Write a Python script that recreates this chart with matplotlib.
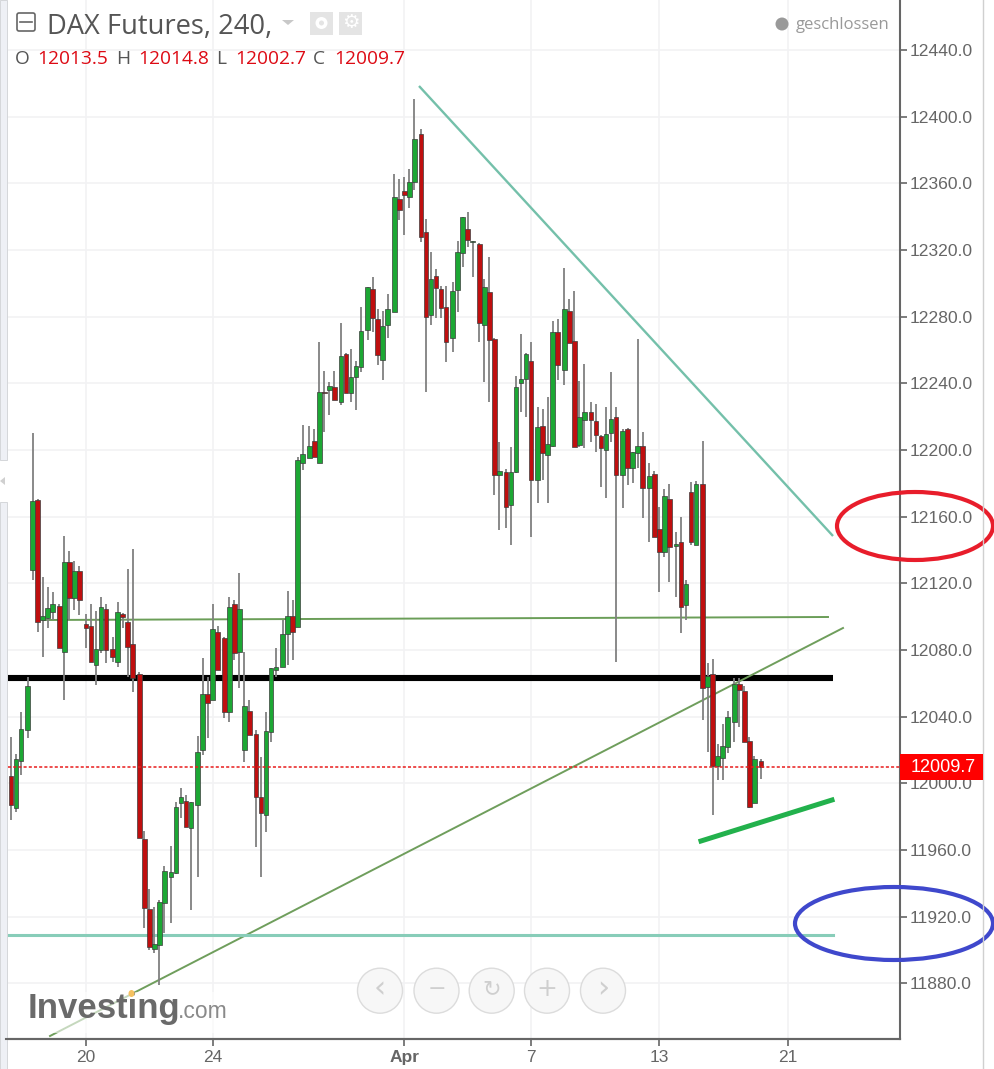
import matplotlib
matplotlib.use("Agg")
import matplotlib.pyplot as plt
from matplotlib.patches import Ellipse, Circle, Rectangle, FancyBboxPatch, Polygon

# candles per trading session, a small gap is left between sessions
session_sizes = [3, 6, 5, 5, 5, 6, 5, 5, 6, 5, 5, 6, 5, 5, 5, 6, 5, 5, 6, 5, 5, 6, 5, 5, 5, 6, 5, 1]

opens = [12004.6, 11985, 12013.4,
         12032, 12128, 12170, 12098, 12099, 12103,
         12106.6, 12079, 12132.6, 12111, 12127.6,
         12095.6, 12094.6, 12071, 12080, 12104.6,
         12080.6, 12073, 12101.6, 12096.6, 12083.6,
         12065.6, 11966.6, 11924.6, 11900.4, 11903, 11928.4,
         11944, 11946, 11988, 11989.6, 11973,
         11987, 12020, 12053.6, 12050, 12090.6,
         12087, 12043, 12107.6, 12079, 12020, 12043.6,
         12029.6, 11991.6, 11981, 12031, 12068,
         12070, 12089.4, 12100.6, 12094, 12192.4,
         12195.4, 12205.6, 12192.4, 12234.6, 12236, 12237.6,
         12229, 12257.6, 12234.4, 12243.6, 12250,
         12272, 12296.6, 12278.6, 12254, 12275,
         12283, 12350.6, 12355.6, 12352, 12361,
         12389.6, 12330.6, 12281, 12304.6, 12296.6, 12285.6,
         12267, 12296, 12318, 12332.6, 12324.8,
         12323.6, 12275, 12294.6, 12266.6, 12185,
         12186.6, 12167, 12187, 12240, 12242.4, 12253.6,
         12182, 12214.6, 12197, 12202.4, 12270.6,
         12248, 12283.6, 12265.6, 12203, 12218,
         12222.6, 12217.6, 12208.6, 12200, 12210, 12219.6,
         12185, 12212.6, 12189, 12198.4, 12202.6,
         12177, 12185.6, 12152.6, 12139, 12170.6,
         12142.4, 12144.6, 12107, 12174.6, 12143,
         12179.6, 12058, 12065.6, 12010.4, 12015, 12022,
         12037, 12059.6, 12055.6, 12025.6, 11988.4,
         12013.5]

closes = [11987, 12014.6, 12032.6,
          12058.6, 12169.6, 12097, 12100.4, 12105.4, 12107.6,
          12081, 12132.6, 12111, 12127.6, 12110,
          12093, 12073, 12080.4, 12105.6, 12080,
          12076, 12102.6, 12100, 12082, 12063,
          11967.4, 11925, 11902, 11903.4, 11928.6, 11947.4,
          11946.6, 11985.6, 11991.6, 11974, 11988.6,
          12018.6, 12053.6, 12048, 12092.6, 12068,
          12043, 12105.6, 12078, 12104.6, 12046.4, 12029,
          11992, 11982, 12031.6, 12069, 12069.6,
          12089.6, 12100.6, 12091, 12194, 12197.4,
          12202.6, 12196, 12234.6, 12234, 12238.6, 12230,
          12256.6, 12234.4, 12243.6, 12250.4, 12271.6,
          12297.6, 12279, 12257, 12274.6, 12284.6,
          12351.6, 12344, 12353, 12360.6, 12386.6,
          12328, 12280, 12302.6, 12297, 12285, 12265,
          12295.6, 12318.6, 12339.6, 12326, 12325.4,
          12276, 12297.6, 12266, 12185, 12187.6,
          12166, 12186.6, 12237.6, 12242.6, 12257.6, 12182,
          12213.6, 12198, 12203.6, 12270.6, 12251,
          12284.6, 12264, 12202, 12219.6, 12222.6,
          12218, 12209, 12201, 12209.6, 12218.6, 12185,
          12211.6, 12189, 12198.6, 12202.6, 12177,
          12184.6, 12148, 12139, 12172.6, 12142,
          12143.4, 12106, 12119.6, 12145, 12179.6,
          12057, 12064.4, 12010.4, 12016.6, 12022.6, 12039.6,
          12059.6, 12056, 12025, 11986, 12014.6,
          12009.7]

highs = [12027.6, 12017.6, 12042.6,
         12064, 12210, 12170.6, 12123.6, 12118, 12114.6,
         12107.6, 12148.6, 12139.6, 12133.6, 12130.6,
         12101.6, 12107.6, 12103.6, 12111.6, 12107.6,
         12087.6, 12108.6, 12102, 12128.6, 12140.6,
         12067, 11971.6, 11936.6, 11925.6, 11930, 11950.4,
         11962.6, 11988.6, 11997, 11993, 11989,
         12028.6, 12075, 12064, 12107.6, 12094.6,
         12088, 12112, 12110, 12126, 12079, 12050,
         12032, 12015.6, 12042.6, 12069.5, 12081,
         12098, 12115.6, 12110, 12196, 12215,
         12214.6, 12212.6, 12264.6, 12247.6, 12241, 12247.6,
         12276, 12258, 12260.6, 12253.6, 12285.6,
         12298, 12303.6, 12284.6, 12283.6, 12293.6,
         12365.6, 12362.6, 12363.6, 12368.6, 12410.6,
         12392.6, 12338.6, 12318.6, 12308.6, 12298.6, 12298.6,
         12300.6, 12325.6, 12340, 12342.6, 12325.6,
         12324, 12302.6, 12315.6, 12267, 12204.6,
         12188.6, 12201.6, 12244.6, 12269.6, 12258, 12264.6,
         12225.6, 12224.6, 12231.6, 12277.6, 12278.6,
         12309, 12290.6, 12295.6, 12241.6, 12251.6,
         12228.6, 12227.6, 12209, 12225.6, 12246.6, 12225.6,
         12212.6, 12213, 12199, 12266.6, 12210.6,
         12192, 12187.6, 12165.6, 12176.6, 12179.6,
         12150.6, 12159.6, 12122, 12180.6, 12181.6,
         12205.6, 12072, 12074.6, 12023.6, 12035.6, 12043.6,
         12063, 12063, 12058.4, 12027.6, 12016.6,
         12014.8]

lows = [11978, 11983, 12005,
        12027, 12122, 12091, 12076, 12093, 12098,
        12081, 12050, 12098, 12104, 12101,
        12081, 12073, 12059, 12078, 12072,
        12073, 12070, 12093, 12064, 12055,
        11967, 11913, 11900, 11898, 11879, 11910,
        11916, 11945.6, 11979, 11974, 11924,
        11944, 12017, 12027, 12050, 12068,
        12039, 12037, 12074, 12057, 12013, 12029,
        11962, 11944, 11971, 12025, 12064,
        12070, 12071, 12074, 12094, 12188,
        12195, 12196, 12192, 12211, 12221, 12230,
        12227, 12234, 12229, 12224, 12247,
        12266, 12271, 12251, 12242, 12267,
        12283, 12338, 12329, 12345, 12356,
        12325, 12235, 12275, 12279, 12279, 12253,
        12259, 12283, 12310, 12322, 12304,
        12265, 12241, 12229, 12173, 12152,
        12153, 12143, 12186, 12223, 12220, 12148,
        12168, 12182, 12168, 12202, 12242,
        12239, 12264, 12202, 12202, 12201,
        12205, 12199, 12178, 12171, 12205, 12072.8,
        12165, 12179, 12180, 12189, 12159,
        12145, 12148, 12115, 12136, 12121,
        12112, 12090, 12098, 12143, 12143,
        12038, 12019, 11981, 12002, 12002, 12018,
        12025, 12034, 12025, 11985, 11988,
        12002.7]

y_ticks = list(range(11880, 12441, 40))
x_tick_pos = [15, 40.34, 78.66, 104, 129.66, 155.3]
x_tick_labels = ["20", "24", "Apr", "7", "13", "21"]

last_price = 12009.7
legend_labels = ["O", "H", "L", "C"]
legend_values = ["12013.5", "12014.8", "12002.7", "12009.7"]

# x position of each candle: 1 unit per candle, sessions slightly apart
xs = []
pos = 0
for size in session_sizes:
    for k in range(size):
        xs.append(pos)
        pos += 1
    pos += 0.333

fig = plt.figure(figsize=(9.94, 10.69), dpi=100, facecolor="white")
ax = fig.add_axes([8 / 994, 30 / 1069, 892 / 994, 1039 / 1069])
ax.set_xlim(-0.6, 177.8)
ax.set_ylim(11846.6, 12470)

# grid
ax.set_yticks(y_ticks)
ax.set_yticklabels([f"{v:.1f}" for v in y_ticks], fontsize=12.6, color="#666666", family="Liberation Sans")
ax.set_xticks(x_tick_pos)
ax.set_xticklabels(x_tick_labels, fontsize=12.5, color="#666666", family="Liberation Sans")
ax.get_xticklabels()[2].set_fontweight("bold")
ax.yaxis.tick_right()
ax.tick_params(axis="y", length=5, width=1.2, color="#666666", pad=2)
ax.tick_params(axis="x", length=5, width=1.2, color="#666666", pad=3)
ax.grid(True, color="#f2f2f4", linewidth=1.2)
ax.set_axisbelow(True)
for side in ["top", "left"]:
    ax.spines[side].set_visible(False)
for side in ["right", "bottom"]:
    ax.spines[side].set_color("#666666")
    ax.spines[side].set_linewidth(1.5)

# hand drawn trend lines
ax.plot([81.6, 164.4], [12418.4, 12148.4], color="#74c0aa", lw=1.7, zorder=2, solid_capstyle="butt")
ax.plot([6.4, 163.4], [12098, 12099.8], color="#6b9e58", lw=1.4, zorder=2)
ax.plot([-0.6, 164.4], [12063.2, 12063.2], color="black", lw=4.4, zorder=2, solid_capstyle="butt")
ax.plot([7.8, 166.4], [11848.4, 12093.2], color="#6f9e5c", lw=1.4, zorder=2)
ax.plot([-0.6, 164.4], [11909, 11909], color="#88cdb9", lw=2.2, zorder=2)
ax.plot([138, 164.2], [11965.4, 11990], color="#22b14c", lw=3.6, zorder=2)

# candles
ax.vlines(xs, lows, highs, color="#808080", lw=1.3, zorder=3)
for x, o, c in zip(xs, opens, closes):
    col = "#1ca734" if c >= o else "#bf0f0f"
    ax.bar(x, abs(c - o), bottom=min(o, c), width=0.9, color=col, edgecolor="#3c3c3c", lw=0.5, zorder=4)

# last price line
ax.axhline(last_price, color="#e81c1c", lw=1.1, ls=(0, (2, 1.4)), zorder=5)

# circled levels
ax.add_patch(Ellipse((180.8, 12154.4), 31.2, 40.8, fill=False, ec="#e81d2b", lw=3, clip_on=False, zorder=6))
ax.add_patch(Ellipse((176.6, 11915.9), 39.6, 43.8, fill=False, ec="#3f48cc", lw=3, clip_on=False, zorder=6))

# overlay in pixel coordinates for the chart's toolbars and labels
ov = fig.add_axes([0, 0, 1, 1], facecolor="none")
ov.set_xlim(0, 994)
ov.set_ylim(1069, 0)
ov.axis("off")

# price tag
ov.add_patch(Rectangle((900, 754), 83, 26, fc="#ff0000", ec="none", zorder=7))
ov.text(943, 767.5, f"{last_price:.1f}", color="white", fontsize=13, family="Liberation Sans", ha="center", va="center", zorder=8)

# left strip and right border
ov.add_patch(Rectangle((0, 0), 6.5, 460, fc="#eef0f5", ec="#d4d6da", lw=0.7))
ov.add_patch(Rectangle((0, 502), 6.5, 567, fc="#eef0f5", ec="#d4d6da", lw=0.7))
ov.add_patch(Polygon([[0, 481], [5, 477], [5, 485]], fc="#d0d0d0", ec="none"))
ov.plot([983, 983], [0, 1069], color="#d0d0d0", lw=1)
ov.plot([6, 900], [1039, 1039], color="#666666", lw=1.5)

# header
ov.add_patch(FancyBboxPatch((17, 13), 18, 18, boxstyle="round,pad=0,rounding_size=2", fc="white", ec="#666666", lw=1.2))
ov.plot([20, 32], [22, 22], color="#666666", lw=1.2)
ov.text(47, 27, "DAX Futures, 240,", fontsize=19.7, color="#555555", family="Open Sans", va="center")
ov.add_patch(Polygon([[282, 20], [294, 20], [288, 25]], fc="#c8c8c8", ec="none"))
ov.add_patch(Rectangle((310, 12), 23, 23, fc="#e4e4e4", ec="none"))
ov.add_patch(Circle((321.5, 23), 6, fc="white", ec="none"))
ov.add_patch(Circle((321.5, 23), 2.5, fc="#e4e4e4", ec="none"))
ov.add_patch(Rectangle((339, 12), 23, 23, fc="#e4e4e4", ec="none"))
ov.text(350.5, 23, "\u2699", fontsize=14, color="white", family="DejaVu Sans", ha="center", va="center")
ov.add_patch(Circle((782, 24), 6.5, fc="#999999", ec="none"))
ov.text(796, 25, "geschlossen", fontsize=12, color="#999999", family="Open Sans", va="center")

legend_lx = [15, 116, 216, 313]
legend_vx = [37, 138, 235, 334]
for lab, val, lx, vx in zip(legend_labels, legend_values, legend_lx, legend_vx):
    ov.text(lx, 59, lab, fontsize=13.8, color="#555555", family="Open Sans", va="center")
    ov.text(vx, 59, val, fontsize=13.8, color="#dd0a14", family="Open Sans", va="center")

# zoom buttons
button_glyphs = ["\u2039", "\u2212", "\u21bb", "+", "\u203a"]
button_x = [380, 436.5, 491.7, 547, 603]
button_size = [22, 16, 16, 18, 22]
for gx, g, fs in zip(button_x, button_glyphs, button_size):
    ov.add_patch(Ellipse((gx, 990.7), 45, 45, fc="#f7f7f7", ec="#dcdcdc", lw=1, zorder=8))
    ov.text(gx, 989, g, fontsize=fs, color="#cfcfcf", family="DejaVu Sans", ha="center", va="center", zorder=9)

# logo, the trend line fades out behind it
ov.add_patch(Rectangle((26, 992), 204, 41, fc="white", alpha=0.6, ec="none", zorder=8))
ov.text(28, 1018, "Investing", fontsize=25, fontweight="bold", color="#6a6a6a", family="Liberation Sans", va="baseline", zorder=9)
ov.text(178, 1018, ".com", fontsize=16.5, color="#8a8a8a", family="Liberation Sans", va="baseline", zorder=9)
ov.add_patch(Ellipse((131.5, 993.5), 6, 7, fc="#f5c161", ec="none", zorder=10))

fig.savefig("out.png", dpi=100)
